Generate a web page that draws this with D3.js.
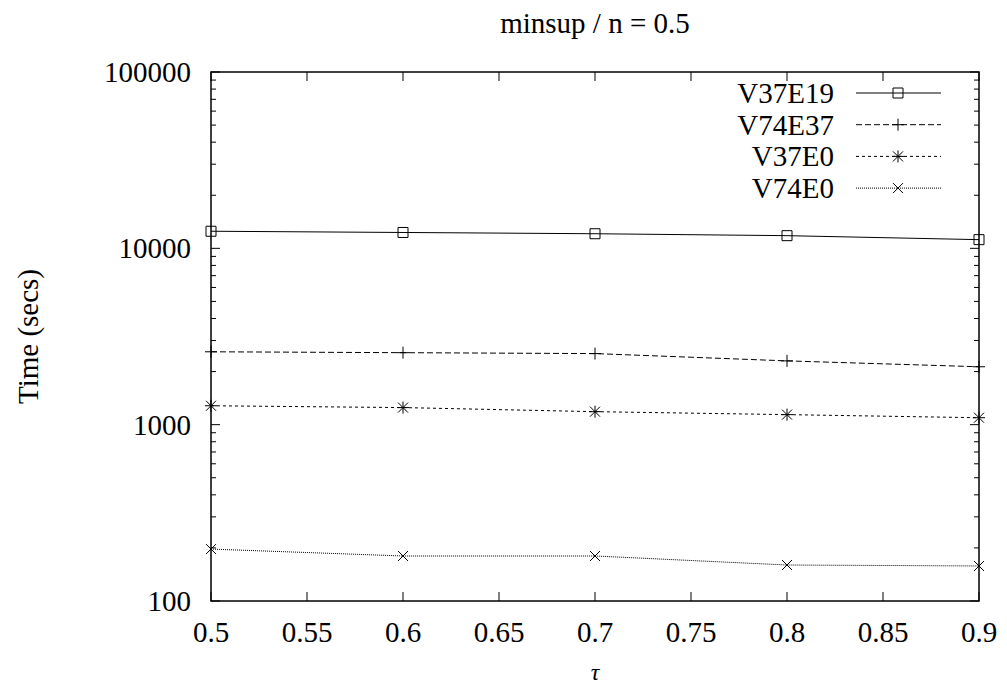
<!DOCTYPE html>
<html>
<head>
<meta charset="utf-8">
<script src="https://cdn.jsdelivr.net/npm/d3@7"></script>
<style>
  body { margin: 0; background: #fff; }
</style>
</head>
<body>
<div id="chart"></div>
<script>
// data
const taus = [0.5, 0.6, 0.7, 0.8, 0.9];
const seriesNames = ["V37E19", "V74E37", "V37E0", "V74E0"];
const v37e19 = [12500, 12300, 12100, 11800, 11200];
const v74e37 = [2590, 2560, 2530, 2300, 2130];
const v37e0 = [1280, 1250, 1185, 1140, 1095];
const v74e0 = [197, 180, 180, 160, 158];
const xTicks = [0.5, 0.55, 0.6, 0.65, 0.7, 0.75, 0.8, 0.85, 0.9];
const yTicks = [100, 1000, 10000, 100000];

const W = 1007, H = 690;
const margin = { top: 72, right: 28, bottom: 89, left: 211 };
const width = W - margin.left - margin.right,
  height = H - margin.top - margin.bottom;
const serif = "'Liberation Serif', 'Times New Roman', 'DejaVu Serif', serif";
const fs = "29px";

const svg = d3.select("#chart").append("svg")
  .attr("width", W).attr("height", H)
  .attr("font-family", serif)
  .style("font-family", serif);
const g = svg.append("g")
  .attr("transform", "translate(" + margin.left + "," + margin.top + ")");

const x = d3.scaleLinear().domain([0.5, 0.9]).range([0, width]);
const y = d3.scaleLog().domain([100, 100000]).range([height, 0]);

// minor ticks for the log axis
var minor = [];
[100, 1000, 10000].forEach(function (d) {
  for (var k = 2; k <= 9; k++) minor.push(d * k);
});

// ticks point inward, mirrored on the opposite side
g.selectAll(".xt").data(xTicks).enter().append("path")
  .attr("d", function (d) {
    var px = x(d);
    return "M" + px + "," + height + "v-9M" + px + ",0v9";
  })
  .attr("stroke", "#000").attr("stroke-width", 1);
g.selectAll(".yt").data(yTicks).enter().append("path")
  .attr("d", function (d) {
    var py = y(d);
    return "M0," + py + "h9M" + width + "," + py + "h-9";
  })
  .attr("stroke", "#000").attr("stroke-width", 1);
g.selectAll(".ym").data(minor).enter().append("path")
  .attr("d", function (d) {
    var py = y(d);
    return "M0," + py + "h5M" + width + "," + py + "h-5";
  })
  .attr("stroke", "#000").attr("stroke-width", 1);

g.selectAll(".xl").data(xTicks).enter().append("text")
  .attr("x", function (d) { return x(d); })
  .attr("y", height + 41)
  .attr("text-anchor", "middle")
  .attr("font-size", fs)
  .text(function (d) { return d3.format("")(d); });
g.selectAll(".yl").data(yTicks).enter().append("text")
  .attr("x", -20)
  .attr("y", function (d) { return y(d) + 10; })
  .attr("text-anchor", "end")
  .attr("font-size", fs)
  .text(function (d) { return d; });

// frame
g.append("rect")
  .attr("width", width).attr("height", height)
  .attr("fill", "none").attr("stroke", "#000").attr("stroke-width", 1.5);

// title and axis labels
svg.append("text")
  .attr("x", margin.left + width / 2).attr("y", 33)
  .attr("text-anchor", "middle").attr("font-size", fs)
  .text("minsup / n = 0.5");
svg.append("text")
  .attr("transform", "translate(38," + (margin.top + height / 2) + ") rotate(-90)")
  .attr("text-anchor", "middle").attr("font-size", fs)
  .text("Time (secs)");
svg.append("text")
  .attr("x", margin.left + width / 2).attr("y", 680)
  .attr("text-anchor", "middle").attr("font-size", "24px")
  .attr("font-style", "italic")
  .text("τ");

const allSeries = [v37e19, v74e37, v37e0, v74e0];
const dashes = [null, "6,3", "3,3", "1,1"];

function marker(sel, i) {
  var p;
  if (i === 0) p = "M-5,-5h10v10h-10z";
  else if (i === 1) p = "M-6,0h12M0,-6v12";
  else if (i === 2) p = "M-6,0h12M0,-6v12M-5,-5l10,10M-5,5l10,-10";
  else p = "M-5,-5l10,10M-5,5l10,-10";
  sel.append("path").attr("d", p)
    .attr("fill", "none").attr("stroke", "#000").attr("stroke-width", 1);
}

const line = d3.line()
  .x(function (d, i) { return x(taus[i]); })
  .y(function (d) { return y(d); });

allSeries.forEach(function (vals, i) {
  g.append("path")
    .attr("d", line(vals))
    .attr("fill", "none").attr("stroke", "#000").attr("stroke-width", 1)
    .attr("stroke-dasharray", dashes[i]);
  vals.forEach(function (v, j) {
    var m = g.append("g")
      .attr("transform", "translate(" + x(taus[j]) + "," + y(v) + ")");
    marker(m, i);
  });
});

// legend
const legend = g.append("g");
seriesNames.forEach(function (name, i) {
  var ly = 21 + i * 31.7;
  legend.append("text")
    .attr("x", 623).attr("y", ly + 10)
    .attr("text-anchor", "end").attr("font-size", fs)
    .text(name);
  legend.append("path")
    .attr("d", "M645," + ly + "h85")
    .attr("stroke", "#000").attr("stroke-width", 1)
    .attr("stroke-dasharray", dashes[i]);
  var m = legend.append("g").attr("transform", "translate(687," + ly + ")");
  marker(m, i);
});
</script>
</body>
</html>
